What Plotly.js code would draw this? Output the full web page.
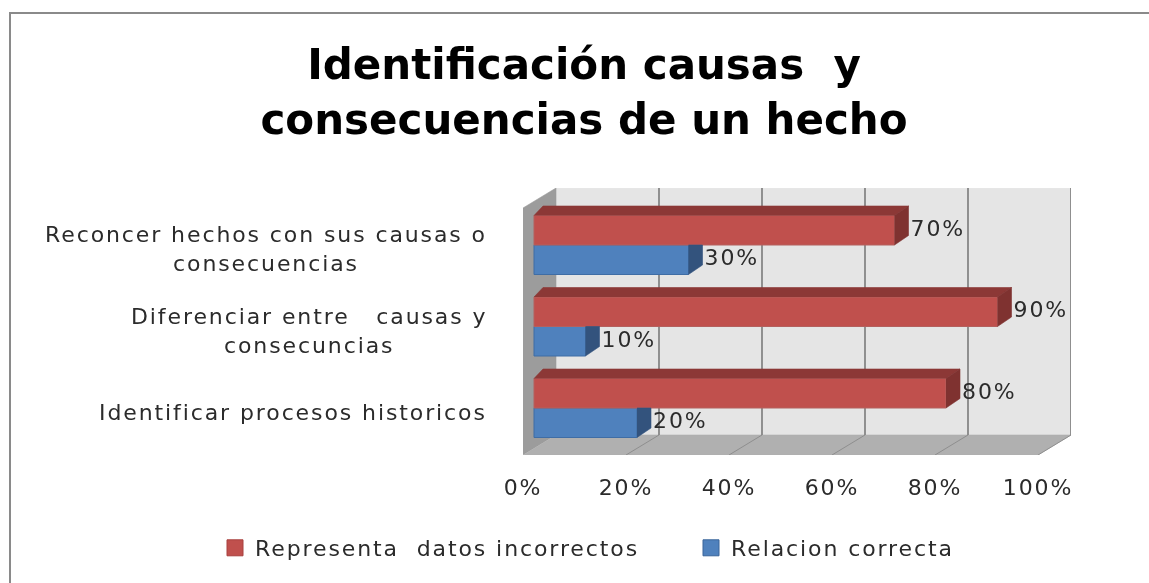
<!DOCTYPE html>
<html>
<head>
<meta charset="utf-8">
<script src="https://cdn.plot.ly/plotly-3.0.1.min.js"></script>
<style>
html,body{margin:0;padding:0;background:#fff;width:1149px;height:583px;overflow:hidden}
#frame{position:absolute;left:9px;top:12px;width:1140px;height:571px;border-left:2px solid #8a8a8a;border-top:2px solid #8a8a8a;box-sizing:border-box;filter:blur(0.5px)}
#chart{position:absolute;left:0;top:0;width:1149px;height:583px;filter:blur(0.6px)}
text{letter-spacing:1.9px}
.gtitle{letter-spacing:0}
</style>
</head>
<body>
<div id="frame"></div>
<div id="chart"></div>
<script>
const categories = ["Identificar procesos historicos", "Diferenciar entre   causas y<br>consecuncias", "Reconcer hechos con sus causas o<br>consecuencias"];
const categoryPositions = [0, 1, 2];
const correcta = [20, 10, 30];
const incorrectos = [80, 90, 70];
const nameCorrecta = "Relacion correcta";
const nameIncorrectos = "Representa  datos incorrectos";
const tickValues = [0, 20, 40, 60, 80, 100];
const tickLabels = ["0%", "20%", "40%", "60%", "80%", "100%"];
const titleText = "Identificación causas  y<br>consecuencias de un hecho";

// 3D look: scale factors between the axes' units and the projected depth
const xUnit = 5.15, yUnit = 81.5;
const plotL = 523, plotR = 1071, plotT = 188, plotB = 455;
const wallDx = 33 / xUnit, wallDy = 20 / yUnit;
const barDx = 14 / xUnit, barDy = 9.5 / yUnit, barLeftDx = 9 / xUnit;
const barThick = 29.5 / yUnit;
const labelGap = 16 / xUnit;
const xShift = 11 / xUnit;
const yBottom = (408 - plotB) / yUnit, yTop = (408 - plotT) / yUnit;
const xMax = (plotR - plotL) / xUnit;
const floorBack = yBottom + wallDy;

function polys(list) {
  const xs = [], ys = [];
  list.forEach(p => { p.forEach(q => { xs.push(q[0]); ys.push(q[1]); }); xs.push(null); ys.push(null); });
  return { x: xs, y: ys };
}
function face(list, fill, axis, lineColor) {
  const p = polys(list);
  return { type: "scatter", mode: "lines", x: p.x, y: p.y, xaxis: axis, yaxis: "y", fill: "toself",
    fillcolor: fill, line: { color: lineColor || fill, width: 0.6 }, hoverinfo: "skip", showlegend: false };
}
function lines(list, color, width) {
  const p = polys(list);
  return { type: "scatter", mode: "lines", x: p.x, y: p.y, xaxis: "x", yaxis: "y",
    line: { color: color, width: width }, hoverinfo: "skip", showlegend: false };
}

const traces = [
  face([[[wallDx, floorBack], [100 + wallDx, floorBack], [100 + wallDx, yTop], [wallDx, yTop]]], "#e5e5e5", "x"),
  face([[[0, yBottom], [wallDx, floorBack], [wallDx, yTop], [0, yTop - wallDy]]], "#9c9c9c", "x"),
  face([[[0, yBottom], [100, yBottom], [100 + wallDx, floorBack], [wallDx, floorBack]]], "#b0b0b0", "x"),
  lines(tickValues.slice(1).map(v => [[v + wallDx, yTop], [v + wallDx, floorBack]]), "#868686", 1.8),
  lines(tickValues.slice(1).map(v => [[v + wallDx, floorBack], [v, yBottom]]), "#8e8e8e", 1),
  { type: "bar", orientation: "h", x: correcta, y: categoryPositions, xaxis: "x2", yaxis: "y", name: nameCorrecta,
    marker: { color: "#4f81bd", line: { color: "#3f6da5", width: 1 } }, hoverinfo: "x", showlegend: false },
  { type: "bar", orientation: "h", x: incorrectos, y: categoryPositions, xaxis: "x2", yaxis: "y", name: nameIncorrectos,
    marker: { color: "#c0504d", line: { color: "#b4605e", width: 1 } }, hoverinfo: "x", showlegend: false },
  // bar side faces, built from the series values
  face(correcta.map((v, i) => {
    const y = categoryPositions[i];
    return [[v, y], [v + barDx, y], [v + barDx, y - barThick + barDy], [v, y - barThick]];
  }), "#33537d", "x2"),
  face(incorrectos.map((v, i) => {
    const y = categoryPositions[i];
    return [[0, y + barThick], [barLeftDx, y + barThick + barDy], [v + barDx, y + barThick + barDy], [v, y + barThick]];
  }), "#8c3836", "x2"),
  face(incorrectos.map((v, i) => {
    const y = categoryPositions[i];
    return [[v, y + barThick], [v + barDx, y + barThick + barDy], [v + barDx, y + barDy], [v, y]];
  }), "#7f3230", "x2"),
  // data labels
  { type: "scatter", mode: "text", x: correcta.map(v => v + labelGap), y: categoryPositions.map(y => y - barThick / 2),
    xaxis: "x2", yaxis: "y", text: correcta.map(v => v + "%"), textposition: "middle right",
    textfont: { family: "DejaVu Sans", size: 22, color: "#2b2b2b" }, hoverinfo: "skip", showlegend: false },
  { type: "scatter", mode: "text", x: incorrectos.map(v => v + labelGap), y: categoryPositions.map(y => y + barThick / 2),
    xaxis: "x2", yaxis: "y", text: incorrectos.map(v => v + "%"), textposition: "middle right",
    textfont: { family: "DejaVu Sans", size: 22, color: "#2b2b2b" }, hoverinfo: "skip", showlegend: false },
  // legend entries
  { type: "scatter", mode: "markers", x: [null], y: [null], xaxis: "x2", yaxis: "y", name: nameIncorrectos, legendrank: 1,
    marker: { symbol: "square", size: 16, color: "#c0504d", line: { color: "#a8413e", width: 1 } } },
  { type: "scatter", mode: "markers", x: [null], y: [null], xaxis: "x2", yaxis: "y", name: nameCorrecta, legendrank: 2,
    marker: { symbol: "square", size: 16, color: "#4f81bd", line: { color: "#3a659a", width: 1 } } }
];

const layout = {
  width: 1149, height: 583,
  margin: { l: plotL, r: 1149 - plotR, t: plotT, b: 583 - plotB, autoexpand: false },
  paper_bgcolor: "rgba(0,0,0,0)", plot_bgcolor: "rgba(0,0,0,0)",
  barmode: "group", bargap: 1 - 2 * barThick, bargroupgap: 0,
  font: { family: "DejaVu Sans", size: 22, color: "#2b2b2b" },
  title: { text: titleText, font: { family: "DejaVu Sans", size: 42, weight: 700, color: "#000" },
    x: 584 / 1149, xref: "container", xanchor: "center", y: 0.864, yref: "container", yanchor: "middle" },
  xaxis: { range: [0, xMax], tickmode: "array", tickvals: tickValues, ticktext: tickLabels, showgrid: false,
    zeroline: false, showline: false, ticks: "", ticklabelstandoff: 17, fixedrange: true },
  xaxis2: { range: [-xShift, xMax - xShift], overlaying: "x", visible: false, fixedrange: true },
  yaxis: { range: [yBottom, yTop], showgrid: false, zeroline: false, showline: false, showticklabels: false, ticks: "", fixedrange: true },
  legend: { orientation: "h", x: (215 - plotL) / (plotR - plotL), y: (plotB - 527) / (plotB - plotT), xanchor: "left", yanchor: "top",
    entrywidth: 431, entrywidthmode: "pixels",
    font: { family: "DejaVu Sans", size: 22, color: "#2b2b2b" }, bgcolor: "rgba(0,0,0,0)", itemclick: false, itemdoubleclick: false },
  annotations: categories.map((c, i) => ({
    text: c, xref: "paper", x: (489 - plotL) / (plotR - plotL), xanchor: "right", yref: "y", y: categoryPositions[i],
    yanchor: "middle", yshift: -4, align: "center", showarrow: false, font: { family: "DejaVu Sans", size: 22, color: "#2b2b2b" }
  }))
};
Plotly.newPlot("chart", traces, layout, { displayModeBar: false, responsive: false });
</script>
</body>
</html>
